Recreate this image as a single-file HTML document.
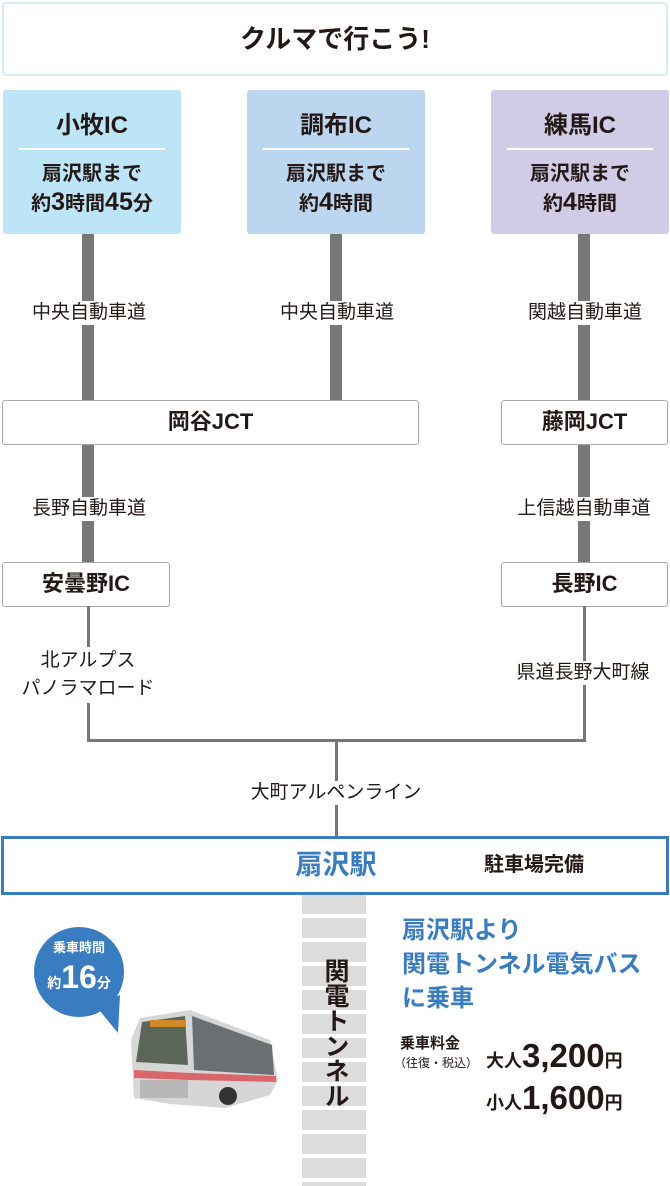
<!DOCTYPE html>
<html><head><meta charset="utf-8"><style>
*{margin:0;padding:0;box-sizing:border-box}
body{width:670px;height:1186px;background:#fff;position:relative;overflow:hidden;font-family:"Liberation Sans","Noto Sans CJK JP",sans-serif;color:#231815}
.a{position:absolute}
.c{text-align:center}
.vl{position:absolute;background:#777;width:12px}
.tl{position:absolute;background:#777;width:3px}
.lbl{position:absolute;background:#fff;font-size:19px;text-align:center;line-height:24px;white-space:nowrap}
.box{position:absolute;border:1.5px solid #aaa;border-radius:3px;background:#fff;font-size:22px;font-weight:bold;text-align:center}
.ic{position:absolute;top:90px;height:144px;width:178px;border-radius:3px;text-align:center}
.ic .t{font-size:24px;font-weight:bold;margin-top:22px;line-height:28px}
.ic .hr{height:2px;background:#fff;margin:8px 16px 10px}
.ic .s{font-size:20px;font-weight:bold;line-height:28px}
</style></head><body>
<div class="a c" style="left:2px;top:2px;width:666px;height:74px;border:2px solid #d4ecf8;border-radius:4px;font-size:26px;font-weight:bold;line-height:70px">クルマで行こう!</div>

<div class="vl" style="left:82px;top:233px;height:330px"></div>
<div class="vl" style="left:330px;top:233px;height:168px"></div>
<div class="vl" style="left:578px;top:233px;height:330px"></div>

<div class="ic" style="left:3px;background:#bde5f8"><div class="t">小牧IC</div><div class="hr"></div><div class="s">扇沢駅まで<br>約<span style="font-size:25px">3</span>時間<span style="font-size:25px">45</span>分</div></div>
<div class="ic" style="left:247px;background:#bcd6ef"><div class="t">調布IC</div><div class="hr"></div><div class="s">扇沢駅まで<br>約<span style="font-size:25px">4</span>時間</div></div>
<div class="ic" style="left:491px;background:#d0cce6"><div class="t">練馬IC</div><div class="hr"></div><div class="s">扇沢駅まで<br>約<span style="font-size:25px">4</span>時間</div></div>

<div class="lbl" style="left:18px;top:301px;width:142px">中央自動車道</div>
<div class="lbl" style="left:266px;top:301px;width:142px">中央自動車道</div>
<div class="lbl" style="left:514px;top:301px;width:142px">関越自動車道</div>

<div class="box" style="left:2px;top:400px;width:417px;height:45px;line-height:42px">岡谷JCT</div>
<div class="box" style="left:501px;top:400px;width:167px;height:45px;line-height:42px">藤岡JCT</div>

<div class="lbl" style="left:30px;top:497px;width:118px">長野自動車道</div>
<div class="lbl" style="left:500px;top:497px;width:168px">上信越自動車道</div>

<div class="box" style="left:2px;top:562px;width:168px;height:45px;line-height:42px">安曇野IC</div>
<div class="box" style="left:501px;top:562px;width:167px;height:45px;line-height:42px">長野IC</div>

<div class="tl" style="left:87px;top:606px;height:136px"></div>
<div class="tl" style="left:583px;top:606px;height:136px"></div>
<div class="a" style="left:87px;top:739px;width:499px;height:3px;background:#777"></div>
<div class="tl" style="left:335px;top:740px;height:97px"></div>
<div class="lbl" style="left:10px;top:647px;width:156px;line-height:28px">北アルプス<br>パノラマロード</div>
<div class="lbl" style="left:500px;top:661px;width:166px">県道長野大町線</div>
<div class="lbl" style="left:234px;top:781px;width:204px">大町アルペンライン</div>

<div class="a" style="left:302px;top:894px;width:64px;height:292px;background:repeating-linear-gradient(#dcdcdc 0 20px,#fff 20px 24px)"></div>
<div class="a" style="left:1px;top:836px;width:668px;height:59px;border:3px solid #3a7cc0;background:#fff"></div>
<div class="a" style="left:286px;top:846px;width:100px;font-size:27px;font-weight:bold;color:#3a7cc0;text-align:center;line-height:38px">扇沢駅</div>
<div class="a" style="left:484px;top:850px;font-size:20px;font-weight:bold;line-height:30px">駐車場完備</div>
<div class="a" style="left:317px;top:958px;width:36px;font-size:25px;font-weight:bold;writing-mode:vertical-rl;line-height:36px">関電トンネル</div>

<svg class="a" style="left:0;top:920px" width="300" height="200">
<circle cx="79" cy="52" r="45" fill="#3a7cc0"/>
<polygon points="95,85 120,75 118,113" fill="#3a7cc0"/>
<text x="79" y="32" fill="#fff" font-size="13" font-weight="bold" text-anchor="middle" font-family="Liberation Sans,Noto Sans CJK JP,sans-serif">乗車時間</text>
<text x="79" y="68" fill="#fff" font-size="32" font-weight="bold" text-anchor="middle" font-family="Liberation Sans,Noto Sans CJK JP,sans-serif"><tspan font-size="14">約</tspan>16<tspan font-size="14">分</tspan></text>
<!-- bus -->
<polygon points="140,98 190,90 270,120 278,160 270,175 225,188 170,184 134,178 131,120" fill="#d6d6d6"/>
<polygon points="142,102 185,96 188,145 136,142" fill="#5c6658"/>
<polygon points="192,96 272,125 274,155 194,150" fill="#6a7072"/>
<polygon points="134,150 190,153 276,156 276,162 190,160 134,158" fill="#d9666a"/>
<rect x="140" y="160" width="48" height="18" fill="#b8b8b8"/>
<circle cx="228" cy="176" r="9" fill="#333"/>
<rect x="150" y="100" width="36" height="7" fill="#d08a2a"/>
</svg>

<div class="a" style="left:402px;top:914px;font-size:24px;font-weight:bold;color:#3a7cc0;line-height:34px;white-space:nowrap">扇沢駅より<br>関電トンネル電気バス<br>に乗車</div>
<div class="a" style="left:400px;top:1034px;font-size:15px;font-weight:bold;line-height:20px">乗車料金</div>
<div class="a" style="left:394px;top:1055px;font-size:12px;line-height:16px">（往復・税込）</div>
<div class="a" style="left:486px;top:1036px;font-size:18px;font-weight:bold;line-height:40px;white-space:nowrap">大人<span style="font-size:33px">3,200</span>円</div>
<div class="a" style="left:486px;top:1078px;font-size:18px;font-weight:bold;line-height:40px;white-space:nowrap">小人<span style="font-size:33px">1,600</span>円</div>
</body></html>
